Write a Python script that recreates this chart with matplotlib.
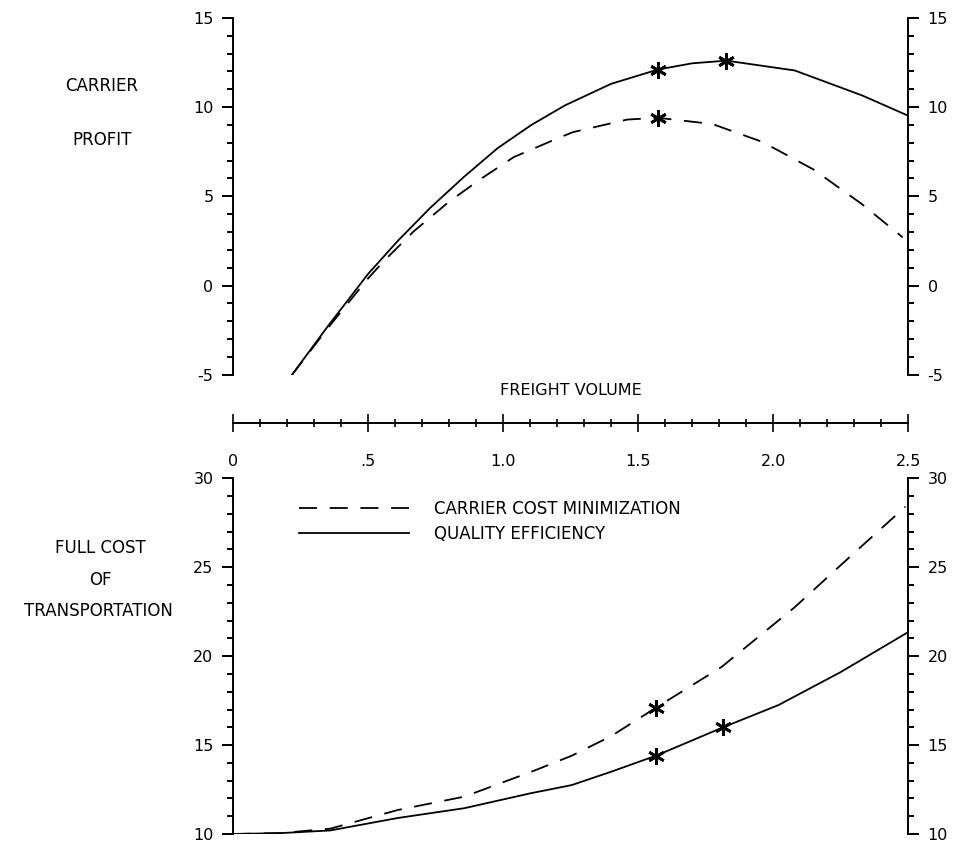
import matplotlib
matplotlib.use("Agg")
import matplotlib.pyplot as plt
from matplotlib.ticker import MultipleLocator, FixedLocator, FixedFormatter

plt.rcParams["axes.unicode_minus"] = False

# freight volume vs carrier profit
prof_qe_x = [0.216, 0.35, 0.50, 0.61, 0.73, 0.856, 0.98, 1.105, 1.23, 1.40, 1.573, 1.70, 1.827, 2.08, 2.33, 2.51]
prof_qe_y = [-5.05, -2.3, 0.65, 2.5, 4.35, 6.1, 7.7, 9.0, 10.1, 11.3, 12.1, 12.45, 12.6, 12.05, 10.65, 9.45]
prof_cm_x = [0.216, 0.35, 0.50, 0.56, 0.67, 0.80, 0.92, 1.04, 1.21, 1.26, 1.46, 1.573, 1.775, 1.96, 2.15, 2.33, 2.48]
prof_cm_y = [-5.05, -2.4, 0.4, 1.4, 3.05, 4.7, 6.0, 7.2, 8.3, 8.6, 9.3, 9.4, 9.05, 8.05, 6.5, 4.55, 2.7]

# freight volume vs full cost of transportation
cost_qe_x = [0, 0.175, 0.36, 0.61, 0.856, 1.105, 1.254, 1.4, 1.566, 1.815, 2.02, 2.25, 2.5]
cost_qe_y = [10, 10.05, 10.2, 10.9, 11.45, 12.3, 12.75, 13.5, 14.4, 16.0, 17.25, 19.1, 21.35]
cost_cm_x = [0, 0.175, 0.36, 0.61, 0.856, 1.105, 1.254, 1.4, 1.566, 1.81, 2.08, 2.30, 2.49]
cost_cm_y = [10, 10.05, 10.3, 11.35, 12.1, 13.5, 14.4, 15.5, 17.1, 19.4, 22.75, 25.8, 28.4]

# starred points
star_prof_qe_x = [1.573, 1.827]
star_prof_qe_y = [12.1, 12.6]
star_prof_cm_x = [1.573]
star_prof_cm_y = [9.4]
star_cost_qe_x = [1.566, 1.815]
star_cost_qe_y = [14.4, 16.0]
star_cost_cm_x = [1.566]
star_cost_cm_y = [17.1]

x_ticks = [0, 0.5, 1.0, 1.5, 2.0, 2.5]
x_labels = ["0", ".5", "1.0", "1.5", "2.0", "2.5"]

dash = (0, (10, 7))
lw = 1.3
star = dict(marker=(6, 2, 0), markersize=12, markeredgewidth=2.0, color="black", linestyle="none")

fig = plt.figure(figsize=(9.63, 8.48), dpi=100)


def style_y(ax, lo, hi):
    ax.set_xlim(0, 2.5)
    ax.set_ylim(lo, hi)
    for s in ["top", "bottom"]:
        ax.spines[s].set_visible(False)
    ax.spines["left"].set_linewidth(1.4)
    ax.spines["right"].set_linewidth(1.4)
    ax.set_xticks([])
    ax.yaxis.set_major_locator(MultipleLocator(5))
    ax.yaxis.set_minor_locator(MultipleLocator(1))
    ax.tick_params(axis="y", which="both", direction="out", left=True, right=True,
                   labelleft=True, labelright=True, width=1.4, labelsize=11.5, pad=6)
    ax.tick_params(axis="y", which="major", length=8)
    ax.tick_params(axis="y", which="minor", length=4)


ax1 = fig.add_axes([0.242, 0.558, 0.701, 0.421])
style_y(ax1, -5, 15)
ax1.plot(prof_qe_x, prof_qe_y, color="black", lw=lw)
ax1.plot(prof_cm_x, prof_cm_y, color="black", lw=lw, linestyle=dash)
ax1.plot(star_prof_qe_x, star_prof_qe_y, **star)
ax1.plot(star_prof_cm_x, star_prof_cm_y, **star)

ax2 = fig.add_axes([0.242, 0.0165, 0.701, 0.4195])
style_y(ax2, 10, 30)
ax2.plot(cost_cm_x, cost_cm_y, color="black", lw=lw, linestyle=dash,
         label="CARRIER COST MINIMIZATION")
ax2.plot(cost_qe_x, cost_qe_y, color="black", lw=lw, label="QUALITY EFFICIENCY")
ax2.plot(star_cost_qe_x, star_cost_qe_y, **star)
ax2.plot(star_cost_cm_x, star_cost_cm_y, **star)
ax2.legend(loc="upper left", bbox_to_anchor=(0.097, 0.94), frameon=False, fontsize=12,
           handlelength=6.6, handletextpad=1.5, labelspacing=0.45, borderpad=0, borderaxespad=0)

# shared freight volume axis between the panels
axx = fig.add_axes([0.242, 0.501, 0.701, 0.0001])
axx.set_xlim(0, 2.5)
for s in ["top", "left", "right"]:
    axx.spines[s].set_visible(False)
axx.spines["bottom"].set_linewidth(1.4)
axx.set_yticks([])
axx.xaxis.set_major_locator(FixedLocator(x_ticks))
axx.xaxis.set_major_formatter(FixedFormatter(x_labels))
axx.xaxis.set_minor_locator(MultipleLocator(0.1))
axx.tick_params(axis="x", which="both", direction="inout", width=1.2, labelsize=11.5)
axx.tick_params(axis="x", which="major", length=13, pad=16)
axx.tick_params(axis="x", which="minor", length=6)
axx.set_title("FREIGHT VOLUME", fontsize=11.5, pad=20)

fig.text(0.106, 0.898, "CARRIER", ha="center", va="center", fontsize=12)
fig.text(0.106, 0.835, "PROFIT", ha="center", va="center", fontsize=12)
fig.text(0.104, 0.354, "FULL COST", ha="center", va="center", fontsize=12)
fig.text(0.104, 0.316, "OF", ha="center", va="center", fontsize=12)
fig.text(0.102, 0.279, "TRANSPORTATION", ha="center", va="center", fontsize=12)

fig.savefig("out.png", dpi=100)
